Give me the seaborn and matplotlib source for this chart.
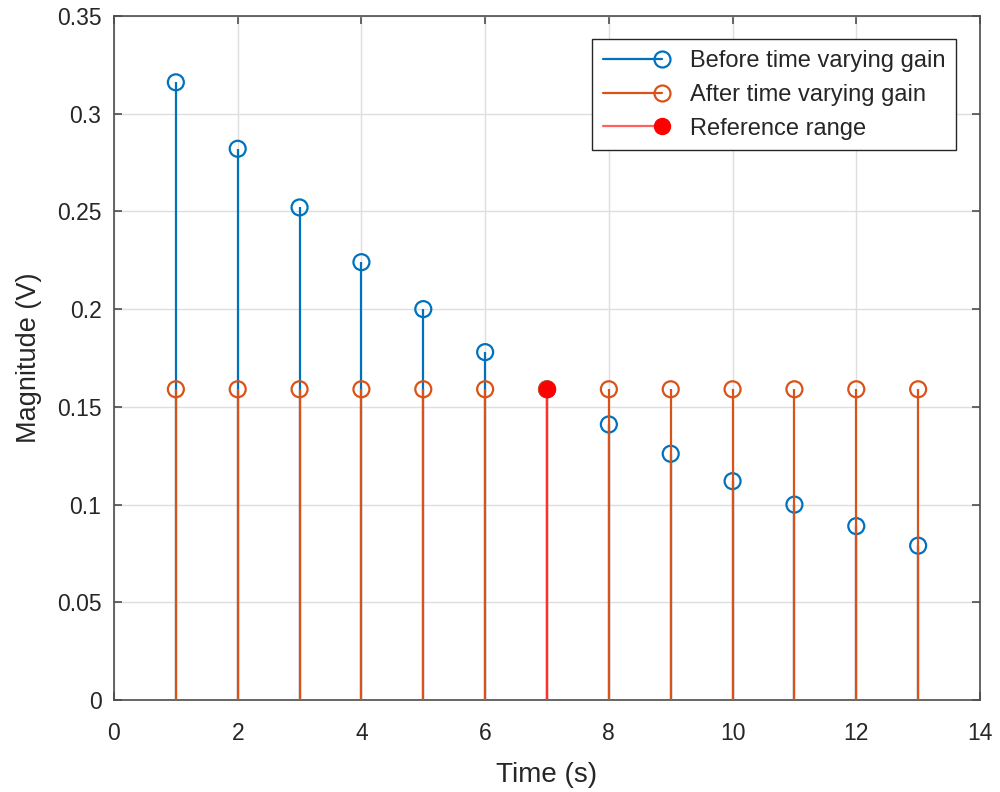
import matplotlib
matplotlib.use("Agg")
import matplotlib.pyplot as plt
import pandas as pd
import seaborn as sns
from matplotlib.lines import Line2D
from matplotlib.legend_handler import HandlerLine2D
from matplotlib.ticker import FuncFormatter, MultipleLocator

# values
time_s = [1, 2, 3, 4, 5, 6, 7, 8, 9, 10, 11, 12, 13]
before_gain = [0.316, 0.282, 0.252, 0.224, 0.200, 0.178, 0.159,
               0.141, 0.126, 0.112, 0.100, 0.089, 0.079]
after_gain = [0.159] * 13
ref_time = [7]
ref_value = [0.159]

BLUE = "#0072BD"
ORANGE = "#D95319"
RED = "#FF0000"
TXT = "#262626"

sns.set_style("whitegrid")
plt.rcParams["font.family"] = ["Liberation Sans", "DejaVu Sans"]

df_before = pd.DataFrame({"t": time_s, "v": before_gain})
df_after = pd.DataFrame({"t": time_s, "v": after_gain})
df_ref = pd.DataFrame({"t": ref_time, "v": ref_value})

fig = plt.figure(figsize=(10, 7.92), dpi=100)
ax = fig.add_axes([0.114, 0.116, 0.866, 0.864])

ms = 11.5
# stems first, then open-circle markers
ax.vlines(df_before["t"], 0, df_before["v"], color=BLUE, lw=1.6, zorder=2)
sns.scatterplot(data=df_before, x="t", y="v", ax=ax, marker="o", s=ms ** 2,
                facecolors="none", edgecolor=BLUE, linewidth=1.6, zorder=3)
ax.vlines(df_after["t"], 0, df_after["v"], color=ORANGE, lw=1.6, zorder=4)
sns.scatterplot(data=df_after, x="t", y="v", ax=ax, marker="o", s=ms ** 2,
                facecolors="none", edgecolor=ORANGE, linewidth=1.6, zorder=5)
ax.vlines(df_ref["t"], 0, df_ref["v"], color="#FF3030", lw=1.6, zorder=6)
sns.scatterplot(data=df_ref, x="t", y="v", ax=ax, marker="o", s=ms ** 2,
                color=RED, edgecolor=RED, linewidth=1.0, zorder=7)

ax.set_xlim(0, 14)
ax.set_ylim(0, 0.35)
ax.xaxis.set_major_locator(MultipleLocator(2))
ax.yaxis.set_major_locator(MultipleLocator(0.05))
ax.yaxis.set_major_formatter(FuncFormatter(lambda v, p: "%g" % round(v, 4)))
ax.set_xlabel("Time (s)", fontsize=20, color=TXT, labelpad=12)
ax.set_ylabel("Magnitude (V)", fontsize=19.5, color=TXT, labelpad=11)

ax.grid(True, color="#dedede", lw=1.0)
ax.set_axisbelow(True)
for sp in ax.spines.values():
    sp.set_color("#4d4d4d")
    sp.set_linewidth(1.2)
    sp.set_visible(True)
ax.tick_params(direction="in", length=6, width=1.2, color="#4d4d4d",
               labelsize=16.5, labelcolor=TXT, top=True, right=True,
               bottom=True, left=True)
ax.tick_params(axis="x", pad=16)
ax.tick_params(axis="y", pad=9)


class EndMarkerHandler(HandlerLine2D):
    # MATLAB style legend: line with the marker at its right end
    def create_artists(self, legend, orig_handle, xdescent, ydescent,
                       width, height, fontsize, trans):
        arts = super().create_artists(legend, orig_handle, xdescent, ydescent,
                                      width, height, fontsize, trans)
        n = len(arts[0].get_xdata())
        arts[0].set_markevery([n - 1])
        return arts


handles = [
    Line2D([], [], color=BLUE, lw=1.6, marker="o", ms=ms,
           mfc="none", mec=BLUE, mew=1.6),
    Line2D([], [], color=ORANGE, lw=1.6, marker="o", ms=ms,
           mfc="none", mec=ORANGE, mew=1.6),
    Line2D([], [], color="#FF6060", lw=1.6, marker="o", ms=ms,
           mfc=RED, mec=RED),
]
labels = ["Before time varying gain", "After time varying gain", "Reference range"]
leg = ax.legend(handles, labels, loc="upper right", fontsize=17,
                handlelength=2.5, handletextpad=1.2, labelspacing=0.5,
                borderaxespad=1.0, borderpad=0.45, fancybox=False, framealpha=1,
                edgecolor="#262626", numpoints=1,
                handler_map={Line2D: EndMarkerHandler()})
leg.get_frame().set_linewidth(1.0)
for t in leg.get_texts():
    t.set_color(TXT)

fig.savefig("out.png", dpi=100)
